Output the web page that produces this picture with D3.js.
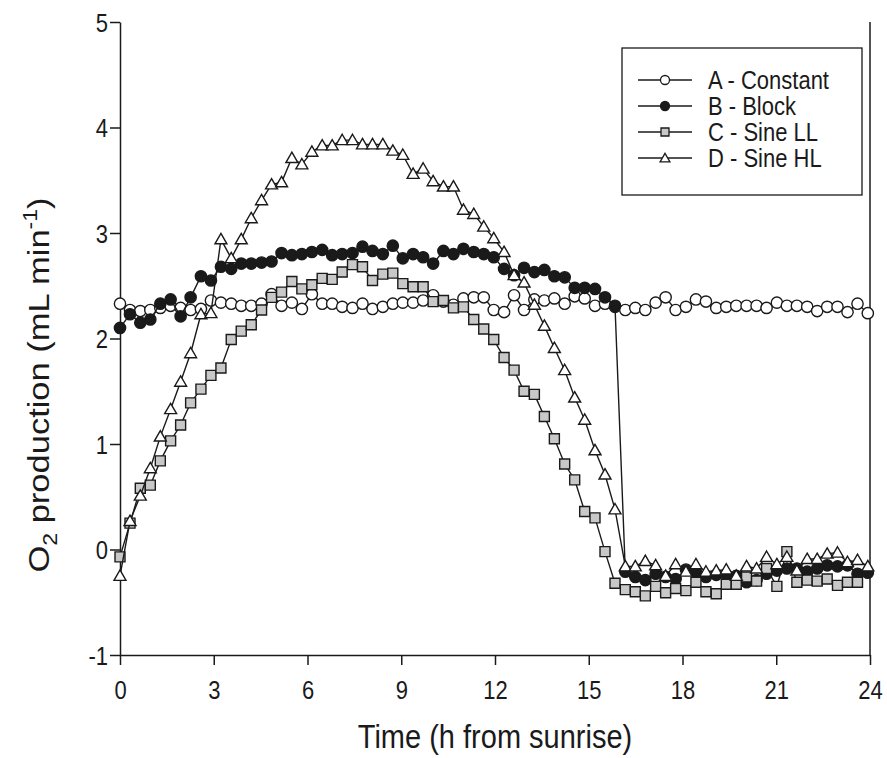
<!DOCTYPE html>
<html>
<head>
<meta charset="utf-8">
<script src="https://cdn.jsdelivr.net/npm/d3@7"></script>
<style>
  body { margin: 0; background: #fff; }
  svg text { font-family: "Liberation Sans", Arial, sans-serif; fill: #1a1a1a; }
</style>
</head>
<body>
<svg id="drawing_region"></svg>
<script>
// time of each sample (h from sunrise)
const times = [0, 0.32, 0.65, 0.97, 1.29, 1.62, 1.94, 2.26, 2.59, 2.91,
  3.23, 3.56, 3.88, 4.20, 4.53, 4.85, 5.17, 5.50, 5.82, 6.14,
  6.47, 6.79, 7.11, 7.44, 7.76, 8.08, 8.41, 8.73, 9.05, 9.38,
  9.70, 10.02, 10.35, 10.67, 10.99, 11.32, 11.64, 11.96, 12.29, 12.61,
  12.93, 13.26, 13.58, 13.90, 14.23, 14.55, 14.87, 15.20, 15.52, 15.84,
  16.17, 16.49, 16.81, 17.14, 17.46, 17.78, 18.11, 18.43, 18.75, 19.08,
  19.40, 19.72, 20.05, 20.37, 20.69, 21.02, 21.34, 21.66, 21.99, 22.31,
  22.63, 22.96, 23.28, 23.60, 23.93];

const constant = [2.33, 2.27, 2.26, 2.27, 2.29, 2.31, 2.29, 2.27, 2.28, 2.36,
  2.34, 2.33, 2.31, 2.31, 2.33, 2.42, 2.31, 2.34, 2.28, 2.42,
  2.33, 2.33, 2.30, 2.29, 2.33, 2.28, 2.30, 2.33, 2.34, 2.34,
  2.36, 2.41, 2.35, 2.32, 2.38, 2.39, 2.39, 2.27, 2.25, 2.41,
  2.27, 2.37, 2.36, 2.38, 2.33, 2.40, 2.38, 2.31, 2.33, 2.30,
  2.27, 2.29, 2.27, 2.34, 2.39, 2.27, 2.30, 2.37, 2.35, 2.29,
  2.30, 2.31, 2.31, 2.31, 2.29, 2.34, 2.31, 2.31, 2.30, 2.26,
  2.30, 2.30, 2.25, 2.33, 2.24];

const block = [2.10, 2.23, 2.15, 2.18, 2.33, 2.37, 2.21, 2.39, 2.59, 2.55,
  2.68, 2.66, 2.71, 2.71, 2.72, 2.73, 2.81, 2.79, 2.80, 2.82,
  2.84, 2.79, 2.80, 2.81, 2.87, 2.83, 2.80, 2.88, 2.76, 2.80,
  2.77, 2.71, 2.83, 2.80, 2.85, 2.82, 2.80, 2.77, 2.66, 2.60,
  2.67, 2.63, 2.65, 2.59, 2.58, 2.48, 2.48, 2.47, 2.39, 2.31,
  -0.21, -0.26, -0.29, -0.23, -0.26, -0.28, -0.19, -0.21, -0.26, -0.24,
  -0.24, -0.25, -0.31, -0.29, -0.23, -0.20, -0.18, -0.18, -0.21, -0.18,
  -0.15, -0.16, -0.15, -0.23, -0.22];

const sineLL = [-0.07, 0.25, 0.58, 0.61, 0.84, 1.03, 1.18, 1.39, 1.52, 1.65,
  1.72, 1.99, 2.07, 2.13, 2.27, 2.39, 2.44, 2.54, 2.47, 2.51,
  2.57, 2.56, 2.63, 2.70, 2.68, 2.55, 2.61, 2.62, 2.52, 2.49,
  2.49, 2.35, 2.36, 2.29, 2.30, 2.18, 2.09, 1.99, 1.82, 1.70,
  1.50, 1.47, 1.26, 1.05, 0.81, 0.66, 0.36, 0.30, -0.02, -0.32,
  -0.38, -0.40, -0.44, -0.35, -0.41, -0.37, -0.39, -0.31, -0.40, -0.42,
  -0.33, -0.33, -0.26, -0.30, -0.18, -0.35, -0.02, -0.31, -0.29, -0.30,
  -0.28, -0.34, -0.31, -0.31];

const sineHL = [-0.25, 0.27, 0.51, 0.77, 1.07, 1.33, 1.59, 1.86, 2.23, 2.24,
  2.94, 2.76, 2.94, 3.14, 3.31, 3.46, 3.48, 3.71, 3.65, 3.77,
  3.83, 3.83, 3.88, 3.88, 3.84, 3.84, 3.84, 3.78, 3.74, 3.56,
  3.61, 3.49, 3.44, 3.44, 3.22, 3.18, 3.06, 2.95, 2.82, 2.60,
  2.53, 2.32, 2.12, 1.91, 1.70, 1.44, 1.23, 0.94, 0.71, 0.38,
  -0.16, -0.16, -0.11, -0.15, -0.25, -0.14, -0.21, -0.14, -0.21, -0.20,
  -0.19, -0.25, -0.16, -0.18, -0.07, -0.14, -0.07, -0.20, -0.09, -0.09,
  -0.04, -0.03, -0.12, -0.10, -0.16];

const seriesNames = ['A - Constant', 'B - Block', 'C - Sine LL', 'D - Sine HL'];
const xticks = [0, 3, 6, 9, 12, 15, 18, 21, 24];
const yticks = [-1, 0, 1, 2, 3, 4, 5];

const series = [
  { name: seriesNames[0], values: constant, symbol: 'circle', fill: '#ffffff' },
  { name: seriesNames[1], values: block, symbol: 'circle', fill: '#1a1a1a' },
  { name: seriesNames[2], values: sineLL, symbol: 'square', fill: '#c8c8c8' },
  { name: seriesNames[3], values: sineHL, symbol: 'triangle', fill: '#ffffff' }
];

const config = {
  parent: '#drawing_region',
  width: 887,
  height: 758,
  margin: { top: 22, right: 17, bottom: 103, left: 120 }
};

const ink = '#1a1a1a';
const stretch = 1.15;   // text in the picture is a bit taller than plain Arial

const svg = d3.select(config.parent)
  .attr('width', config.width)
  .attr('height', config.height);

const inner_width = config.width - config.margin.left - config.margin.right;
const inner_height = config.height - config.margin.top - config.margin.bottom;

const chart = svg.append('g')
  .attr('transform', `translate(${config.margin.left}, ${config.margin.top})`);

const xscale = d3.scaleLinear().domain([0, 24]).range([0, inner_width]);
const yscale = d3.scaleLinear().domain([-1, 5]).range([inner_height, 0]);

// axes
const xaxis = d3.axisBottom(xscale).tickValues(xticks).tickFormat(d => d).tickSizeInner(10).tickSizeOuter(0);
const yaxis = d3.axisLeft(yscale).tickValues(yticks).tickFormat(d => d).tickSizeInner(10).tickSizeOuter(0);

const xaxis_group = chart.append('g')
  .attr('transform', `translate(0, ${inner_height})`)
  .call(xaxis);
const yaxis_group = chart.append('g').call(yaxis);

[xaxis_group, yaxis_group].forEach(g => {
  g.select('.domain').attr('stroke', ink).attr('stroke-width', 1.5);
  g.selectAll('.tick line').attr('stroke', ink).attr('stroke-width', 1.5);
  g.selectAll('.tick text').style('font-size', '22px').attr('fill', ink);
});

xaxis_group.selectAll('.tick text')
  .attr('y', 0).attr('dy', 0)
  .attr('transform', `translate(0, 44) scale(1, ${stretch})`);
yaxis_group.selectAll('.tick text')
  .attr('x', 0).attr('dy', 0)
  .attr('transform', `translate(-12, 9) scale(1, ${stretch})`);

// right frame
chart.append('line')
  .attr('x1', inner_width).attr('x2', inner_width)
  .attr('y1', 0).attr('y2', inner_height)
  .attr('stroke', ink).attr('stroke-width', 1.5);

// symbols
const symbolGen = {
  circle: d3.symbol(d3.symbolCircle, 100),
  square: d3.symbol(d3.symbolSquare, 100),
  triangle: d3.symbol(d3.symbolTriangle, 62)
};

const line = d3.line()
  .x((d, i) => xscale(times[i]))
  .y(d => yscale(d));

series.forEach(s => {
  const g = chart.append('g');
  g.append('path')
    .datum(s.values)
    .attr('d', line)
    .attr('fill', 'none')
    .attr('stroke', ink)
    .attr('stroke-width', 1.4);
  g.selectAll('path.pt')
    .data(s.values)
    .join('path')
    .attr('class', 'pt')
    .attr('d', symbolGen[s.symbol])
    .attr('transform', (d, i) => `translate(${xscale(times[i])}, ${yscale(d) + (s.symbol === 'triangle' ? 1 : 0)})`)
    .attr('fill', s.fill)
    .attr('stroke', ink)
    .attr('stroke-width', 1.4);
});

// legend
const legend = svg.append('g').attr('transform', 'translate(622, 48)');
legend.append('rect')
  .attr('width', 240).attr('height', 147)
  .attr('fill', '#fff').attr('stroke', ink).attr('stroke-width', 1.3);

const legendSym = {
  circle: d3.symbol(d3.symbolCircle, 64),
  square: d3.symbol(d3.symbolSquare, 64),
  triangle: d3.symbol(d3.symbolTriangle, 42)
};

series.forEach((s, i) => {
  const row = legend.append('g').attr('transform', `translate(0, ${32 + i * 26})`);
  row.append('line')
    .attr('x1', 16).attr('x2', 70)
    .attr('stroke', ink).attr('stroke-width', 1.3);
  row.append('path')
    .attr('d', legendSym[s.symbol])
    .attr('transform', `translate(43, ${s.symbol === 'triangle' ? 1 : 0})`)
    .attr('fill', s.fill)
    .attr('stroke', ink)
    .attr('stroke-width', 1.3);
  row.append('text')
    .attr('transform', `translate(86, 9) scale(1, ${stretch})`)
    .style('font-size', '22px')
    .text(s.name);
});

// axis titles
svg.append('text')
  .attr('transform', `translate(${config.margin.left + inner_width / 2}, 748) scale(1, ${stretch})`)
  .attr('text-anchor', 'middle')
  .style('font-size', '29px')
  .text('Time (h from sunrise)');

const ylab = svg.append('text')
  .attr('transform', `translate(49, 385) rotate(-90) scale(1.15, 1)`)
  .attr('text-anchor', 'middle')
  .style('font-size', '30px');
ylab.append('tspan').text('O');
ylab.append('tspan').attr('dy', 8).style('font-size', '20px').text('2');
ylab.append('tspan').attr('dy', -8).text(' production (mL min');
ylab.append('tspan').attr('dy', -12).style('font-size', '20px').text('-1');
ylab.append('tspan').attr('dy', 12).text(')');
</script>
</body>
</html>
